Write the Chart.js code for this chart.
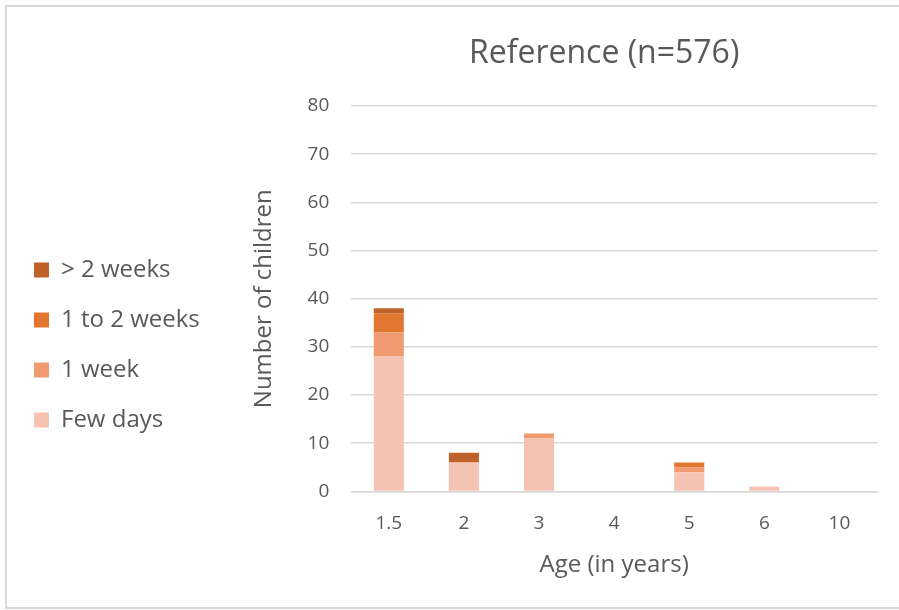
<!DOCTYPE html>
<html>
<head>
<meta charset="utf-8">
<script src="https://cdn.jsdelivr.net/npm/chart.js@4.4.1/dist/chart.umd.min.js"></script>
<style>
  html, body { margin: 0; padding: 0; background: #fff; }
  #wrap { position: relative; width: 899px; height: 610px; overflow: hidden; }
  #frame { position: absolute; left: 5px; top: 5px; width: 1000px; height: 604px; border: 2px solid #d9d9d9; box-sizing: border-box; pointer-events: none; }
  canvas { position: absolute; left: 0; top: 0; }
</style>
</head>
<body>
<div id="wrap">
  <canvas id="barChart" width="899" height="610"></canvas>
  <div id="frame"></div>
</div>
<script>
var ages = ["1.5", "2", "3", "4", "5", "6", "10"];
var fewDays = [28, 6, 11, 0, 4, 1, 0];
var oneWeek = [5, 0, 1, 0, 1, 0, 0];
var oneToTwoWeeks = [4, 0, 0, 0, 1, 0, 0];
var overTwoWeeks = [1, 2, 0, 0, 0, 0, 0];
var yTicks = [0, 10, 20, 30, 40, 50, 60, 70, 80];
var titleText = "Reference (n=576)";

var color = {
    fewDays: '#F5C3B1',
    oneWeek: '#F09A72',
    oneToTwo: '#E0762F',
    overTwo: '#BE6229',
    text: '#595959',
    grid: '#d9d9d9'
};

var FONT = "'Open Sans', 'Liberation Sans', sans-serif";

// title sits over the plot area (slightly left of its middle), like the original
var areaTitle = {
    id: 'areaTitle',
    afterDraw: function (chart) {
        var c = chart.ctx, a = chart.chartArea;
        c.save();
        c.fillStyle = color.text;
        c.font = "32px " + FONT;
        c.textAlign = 'center';
        c.textBaseline = 'middle';
        c.fillText(titleText, (a.left + a.right) / 2 - 10, 54);
        c.restore();
    }
};

function ds(label, data, bg) {
    return {label: label, data: data, backgroundColor: bg, borderWidth: 0,
        barPercentage: 0.4, categoryPercentage: 1.0};
}

var ctx = document.getElementById("barChart");
if (ctx != null) {
    window.myBar = new Chart(ctx, {
        type: 'bar',
        data: {
            labels: ages,
            datasets: [
                ds('Few days', fewDays, color.fewDays),
                ds('1 week', oneWeek, color.oneWeek),
                ds('1 to 2 weeks', oneToTwoWeeks, color.oneToTwo),
                ds('> 2 weeks', overTwoWeeks, color.overTwo)
            ]
        },
        plugins: [areaTitle],
        options: {
            responsive: false,
            animation: false,
            layout: {padding: {top: 106, right: 22, bottom: 26, left: 8}},
            plugins: {
                title: {display: false},
                tooltip: {enabled: false},
                legend: {
                    position: 'left',
                    reverse: true,
                    labels: {
                        color: color.text,
                        font: {family: FONT, size: 24},
                        boxWidth: 15,
                        boxHeight: 15,
                        padding: 26
                    }
                }
            },
            scales: {
                x: {
                    stacked: true,
                    grid: {display: false, drawTicks: false},
                    border: {display: true, color: color.grid, width: 1.5},
                    ticks: {color: color.text, font: {family: FONT, size: 19}, padding: 21},
                    title: {display: true, text: 'Age (in years)', color: color.text,
                        font: {family: FONT, size: 24}, padding: {top: -5}}
                },
                y: {
                    stacked: true,
                    min: 0,
                    max: 80,
                    afterBuildTicks: function (axis) {
                        axis.ticks = yTicks.map(function (v) { return {value: v}; });
                    },
                    grid: {color: color.grid, lineWidth: 1.5, drawTicks: false},
                    border: {display: false},
                    ticks: {color: color.text, font: {family: FONT, size: 19}, padding: 22},
                    title: {display: true, text: 'Number of children', color: color.text,
                        font: {family: FONT, size: 24}, padding: {top: 40, bottom: 7}}
                }
            }
        }
    });
}
</script>
</body>
</html>
